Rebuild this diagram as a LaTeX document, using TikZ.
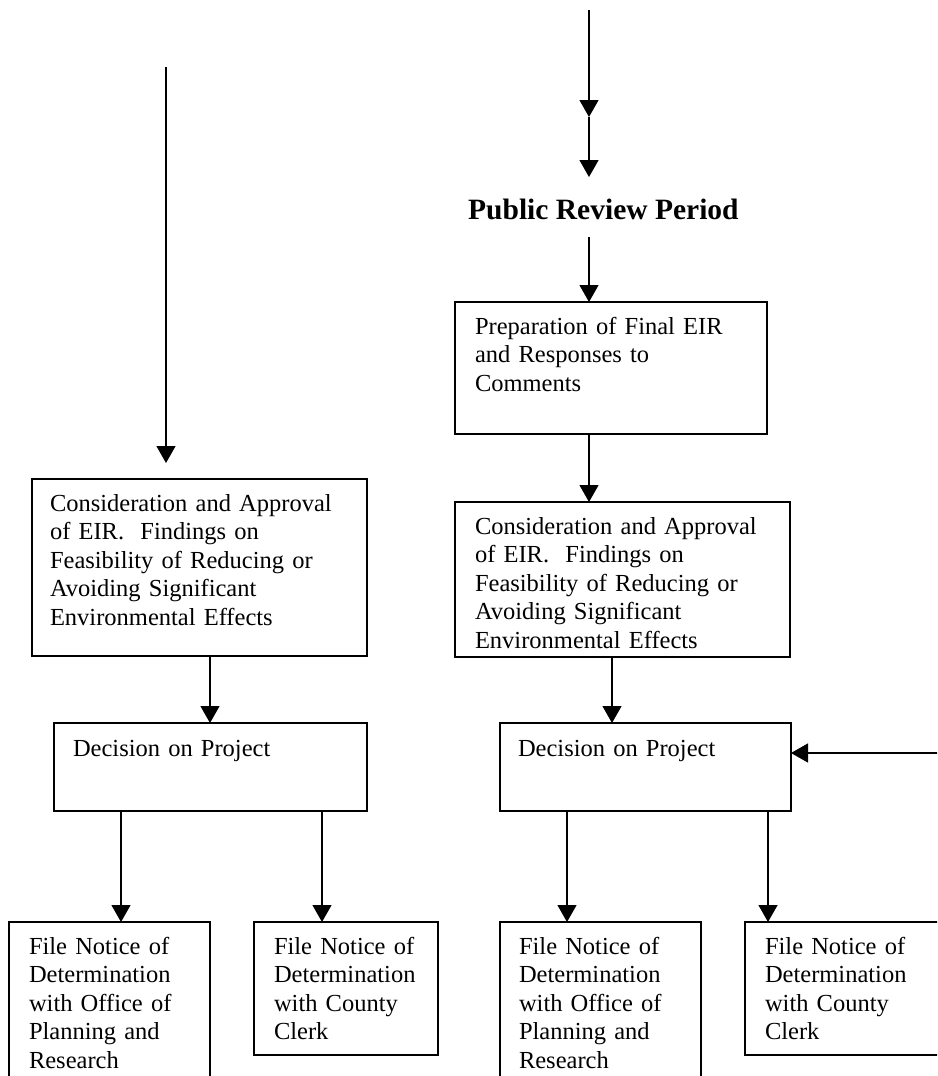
\documentclass[tikz,border=0pt]{standalone}
\usepackage{fontspec}
\setmainfont{Liberation Serif}
\usetikzlibrary{arrows.meta}
\tikzset{
  box/.style={draw, line width=1.3pt, inner sep=0pt, outer sep=0pt, anchor=north west},
  txt/.style={inner sep=0pt, outer sep=0pt, anchor=base west, text width=420pt, align=left,
    font={\fontsize{24.5pt}{28.5pt}\selectfont}},
  arr/.style={line width=1.3pt, -{Triangle[length=17pt,width=19pt]}},
}
\begin{document}
\begin{tikzpicture}[x=1pt,y=-1pt]
\clip (0,0) rectangle (937,1076);
\fill[white] (0,0) rectangle (937,1076);

% ---------- right column ----------
\coordinate (t0) at (589,10);
\coordinate (t1) at (589,117);
\coordinate (t2) at (589,177);
\node[inner sep=0pt, anchor=base west, font={\fontsize{29.5pt}{32pt}\selectfont\bfseries}] (prp) at (468,219) {Public Review Period};
\coordinate (p0) at (589,237);

\node[box, minimum width=312pt, minimum height=132pt] (prep) at (455,302) {};
\node[txt] (prep-t) at ([xshift=20pt,yshift=-32pt]prep.north west) {Preparation of Final EIR\\and Responses to\\Comments};

\node[box, minimum width=335pt, minimum height=155pt] (consR) at (455,502) {};
\node[txt] (consR-t) at ([xshift=20pt,yshift=-32pt]consR.north west) {Consideration and Approval\\of EIR.\ \ Findings on\\Feasibility of Reducing or\\Avoiding Significant\\Environmental Effects};

\node[box, minimum width=291pt, minimum height=88pt] (decR) at (500,723) {};
\node[txt] (decR-t) at ([xshift=18pt,yshift=-33pt]decR.north west) {Decision on Project};

\node[box, minimum width=201pt, minimum height=200pt] (fileRA) at (500,922) {};
\node[txt] (fileRA-t) at ([xshift=19pt,yshift=-32pt]fileRA.north west) {File Notice of\\Determination\\with Office of\\Planning and\\Research};

\node[box, minimum width=240pt, minimum height=133pt] (fileRB) at (745,922) {};
\node[txt] (fileRB-t) at ([xshift=20pt,yshift=-32pt]fileRB.north west) {File Notice of\\Determination\\with County\\Clerk};

\coordinate (rin) at (945,753);
\coordinate (xc) at (589,0);
\coordinate (xd) at (612,0);
\coordinate (xe) at (567,0);
\coordinate (xf) at (768,0);

\draw[arr] (t0) -- (t1);
\draw[arr] (t1) -- (t2);
\draw[arr] (p0) -- (prep.north -| xc);
\draw[arr] (prep.south -| xc) -- (consR.north -| xc);
\draw[arr] (consR.south -| xd) -- (decR.north -| xd);
\draw[arr] (rin) -- (rin -| decR.east);
\draw[arr] (decR.south -| xe) -- (fileRA.north -| xe);
\draw[arr] (decR.south -| xf) -- (fileRB.north -| xf);

% ---------- left column ----------
\coordinate (l0) at (166,67);
\node[box, minimum width=335pt, minimum height=177pt] (consL) at (32,479) {};
\node[txt] (consL-t) at ([xshift=18pt,yshift=-32pt]consL.north west) {Consideration and Approval\\of EIR.\ \ Findings on\\Feasibility of Reducing or\\Avoiding Significant\\Environmental Effects};

\node[box, minimum width=313pt, minimum height=88pt] (decL) at (54,723) {};
\node[txt] (decL-t) at ([xshift=19pt,yshift=-33pt]decL.north west) {Decision on Project};

\node[box, minimum width=201pt, minimum height=200pt] (fileLA) at (9,922) {};
\node[txt] (fileLA-t) at ([xshift=20pt,yshift=-32pt]fileLA.north west) {File Notice of\\Determination\\with Office of\\Planning and\\Research};

\node[box, minimum width=184pt, minimum height=133pt] (fileLB) at (254,922) {};
\node[txt] (fileLB-t) at ([xshift=20pt,yshift=-32pt]fileLB.north west) {File Notice of\\Determination\\with County\\Clerk};

\coordinate (xa) at (121,0);
\coordinate (xb) at (322,0);
\coordinate (xg) at (210,0);

\draw[arr, shorten >=16pt] (l0) -- (consL.north -| l0);
\draw[arr] (consL.south -| xg) -- (decL.north -| xg);
\draw[arr] (decL.south -| xa) -- (fileLA.north -| xa);
\draw[arr] (decL.south -| xb) -- (fileLB.north -| xb);
\end{tikzpicture}
\end{document}
